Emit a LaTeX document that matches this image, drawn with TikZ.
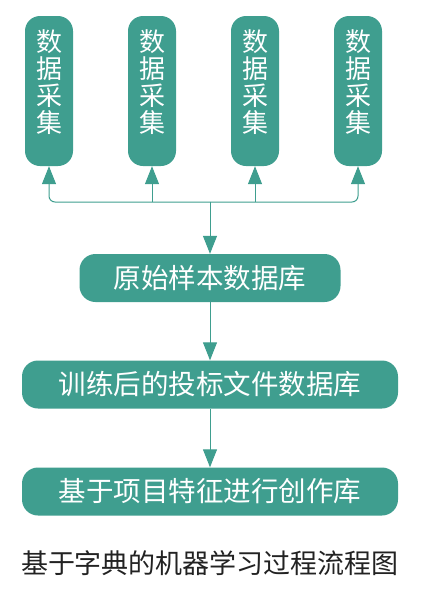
\documentclass[tikz,border=0pt]{standalone}
\usepackage{fontspec}
\setmainfont{Noto Sans CJK SC}
\usetikzlibrary{arrows.meta}
\definecolor{teal1}{HTML}{3F9E8F}
\definecolor{cap}{HTML}{222222}
\tikzset{
  colbox/.style={draw=none,fill=teal1,rounded corners=15pt,minimum width=48pt,minimum height=150pt,inner sep=0pt},
  coltext/.style={text=white,font=\fontsize{26}{27}\selectfont,align=center,inner sep=0pt},
  rowbox/.style={draw=none,fill=teal1,rounded corners=16pt,minimum height=48pt,inner sep=0pt,text=white,font=\fontsize{27.5}{28}\selectfont},
  conn/.style={draw=teal1,line width=1pt,-{Triangle[width=14pt,length=18pt]}},
}
\begin{document}
\begin{tikzpicture}[x=1pt,y=-1pt]
\useasboundingbox (0,0) rectangle (422,590);
\foreach \i/\x in {1/49,2/152,3/255,4/358}{
  \node[colbox] (c\i) at (\x,91) {};
  \node[coltext] (t\i) at (\x,82) {数\\据\\采\\集};
}
\coordinate (j) at (210,202);
\node[rowbox,minimum width=261pt] (o) at (210,278) {原始样本数据库};
\node[rowbox,minimum width=376pt] (b2) at (210,384.5) {训练后的投标文件数据库};
\node[rowbox,minimum width=376pt] (b3) at (210,491.5) {基于项目特征进行创作库};
\draw[conn,rounded corners=6pt] (j) -| (c1.south);
\draw[conn,rounded corners=6pt] (j) -| (c4.south);
\draw[conn] (c2.south |- j) -- (c2.south);
\draw[conn] (c3.south |- j) -- (c3.south);
\draw[conn] (j) -- (o.north);
\draw[conn] (o.south) -- (b2.north);
\draw[conn] (b2.south) -- (b3.north);
\node[text=cap,font=\fontsize{27}{28}\selectfont,inner sep=0pt] (capt) at (210,563) {基于字典的机器学习过程流程图};
\end{tikzpicture}
\end{document}
